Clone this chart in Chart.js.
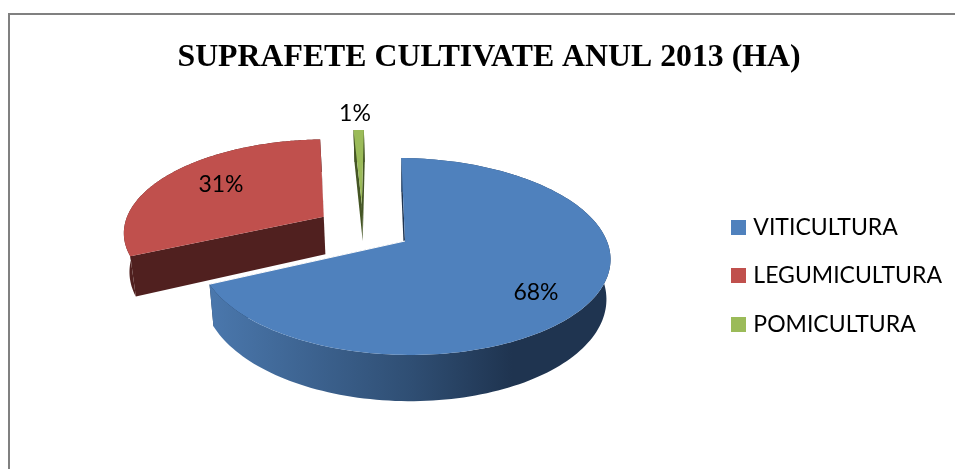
<!DOCTYPE html>
<html>
<head>
<meta charset="utf-8">
<title>Suprafete cultivate</title>
<script src="https://cdn.jsdelivr.net/npm/chart.js@4"></script>
<style>
    html, body { margin: 0; padding: 0; background: #fff; }
    #frame { position: absolute; left: 8px; top: 13px; right: 0; bottom: 0; border-top: 2px solid #808080; border-left: 2px solid #808080; }
    #chart { position: absolute; left: 0; top: 0; }
</style>
</head>
<body>
<div id="frame"></div>
<canvas id="chart" width="955" height="469"></canvas>
<script>
const titleText = 'SUPRAFETE CULTIVATE ANUL 2013 (HA)';
const categories = ['VITICULTURA', 'LEGUMICULTURA', 'POMICULTURA'];
const shares = [68, 31, 1];

const faceColors = ['#4F81BD', '#C0504D', '#9BBB59'];
const wallColors = ['#1F3450', '#50201F', '#445524'];

// Tilted pie: the arcs come from Chart.js, this only projects them on a plane
const view = { cx: 405, cy: 241, rx: 203, ry: 96, depth: 39, persp: 0.157, shrink: 0.02, skew: 3 };
const explode = [[0, 0], [-0.416, -0.25], [-0.226, -0.4]];
const labelSpots = [[536, 293], [221, 185], [355, 114]];

function project(angle, r, z, off) {
    const u = r * Math.cos(angle) + off[0];
    const v = r * Math.sin(angle) + off[1];
    const w = 1 - view.persp * v;
    return [
        view.cx + view.rx * u / w * (1 - view.shrink * z),
        view.cy + (view.ry * v + view.depth * z) / w + view.skew * u
    ];
}

function fillPath(ctx, points, fill) {
    ctx.beginPath();
    points.forEach((p, i) => i ? ctx.lineTo(p[0], p[1]) : ctx.moveTo(p[0], p[1]));
    ctx.closePath();
    ctx.fillStyle = fill;
    ctx.fill();
}

function arcPoints(arc, z, off) {
    const pts = [];
    const steps = 160;
    for (let s = 0; s <= steps; s++) {
        pts.push(project(arc.startAngle + (arc.endAngle - arc.startAngle) * s / steps, 1, z, off));
    }
    return pts;
}

const tiltedPie = {
    id: 'tiltedPie',
    beforeDatasetsDraw(chart) {
        const ctx = chart.ctx;
        const arcs = chart.getDatasetMeta(0).data;
        ctx.save();
        [2, 1, 0].forEach(i => {
            const arc = arcs[i];
            const off = explode[i];
            const apex = project(0, 0, 0, off);
            const apexLow = project(0, 0, 1, off);
            const top = arcPoints(arc, 0, off);
            const low = arcPoints(arc, 1, off);

            // cut faces
            fillPath(ctx, [apex, top[0], low[0], apexLow], wallColors[i]);
            fillPath(ctx, [apex, top[top.length - 1], low[low.length - 1], apexLow], wallColors[i]);

            // outer wall
            let wall = wallColors[i];
            if (i === 0) {
                wall = ctx.createLinearGradient(212, 0, 612, 0);
                wall.addColorStop(0, '#4A77AC');
                wall.addColorStop(0.5, '#2F4E73');
                wall.addColorStop(0.75, '#1F3450');
                wall.addColorStop(1, '#1F3450');
            }
            fillPath(ctx, top.concat(low.slice().reverse()), wall);

            // top face
            fillPath(ctx, [apex].concat(top), faceColors[i]);

            if (i === 0) {
                ctx.beginPath();
                ctx.moveTo(apex[0], apex[1]);
                ctx.lineTo(top[top.length - 1][0], top[top.length - 1][1]);
                ctx.strokeStyle = '#fff';
                ctx.lineWidth = 1;
                ctx.stroke();
            }
        });

        ctx.fillStyle = '#000';
        ctx.font = '23px Lato';
        ctx.textAlign = 'center';
        ctx.textBaseline = 'middle';
        shares.forEach((share, i) => {
            ctx.fillText(share + '%', labelSpots[i][0], labelSpots[i][1]);
        });
        ctx.restore();
        return false;
    }
};

function swatch(color) {
    const c = document.createElement('canvas');
    c.width = 15;
    c.height = 15;
    const g = c.getContext('2d');
    g.fillStyle = color;
    g.fillRect(0, 0, 15, 15);
    return c;
}

new Chart(document.getElementById('chart'), {
    type: 'pie',
    data: {
        labels: categories,
        datasets: [{
            data: shares,
            backgroundColor: faceColors,
            borderWidth: 0
        }]
    },
    options: {
        responsive: false,
        animation: false,
        devicePixelRatio: 1,
        rotation: -1.2,
        layout: { padding: { left: 26, right: 3, bottom: 108 } },
        plugins: {
            tooltip: { enabled: false },
            title: {
                display: true,
                text: titleText,
                color: '#000',
                font: { family: '"Liberation Serif"', size: 31.8, weight: 'bold' },
                padding: { top: 39, bottom: 10 }
            },
            legend: {
                position: 'right',
                align: 'end',
                labels: {
                    color: '#000',
                    font: { family: 'Lato', size: 23 },
                    boxWidth: 6,
                    boxHeight: 15,
                    padding: 25.4,
                    usePointStyle: true,
                    generateLabels: () => categories.map((text, i) => ({
                        text,
                        fillStyle: faceColors[i],
                        strokeStyle: faceColors[i],
                        lineWidth: 0,
                        pointStyle: swatch(faceColors[i]),
                        index: i
                    }))
                }
            }
        }
    },
    plugins: [tiltedPie]
});
</script>
</body>
</html>
